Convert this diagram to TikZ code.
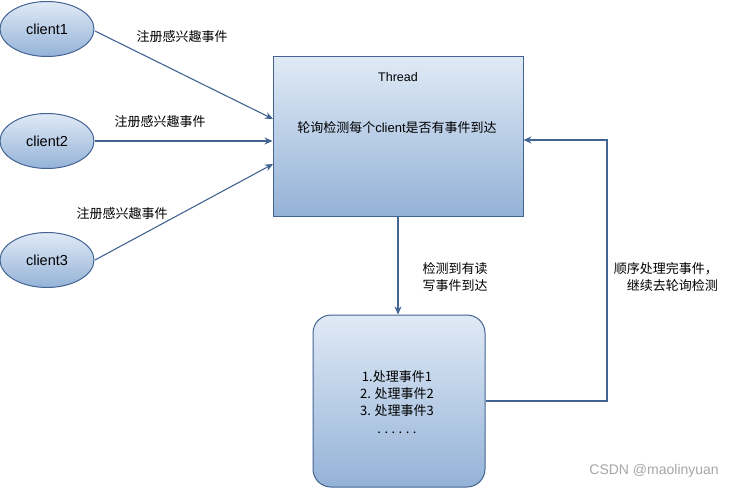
\documentclass[tikz,border=0pt]{standalone}
\usepackage{fontspec}
\setmainfont{Liberation Sans}
\newfontfamily\cjk{Noto Sans CJK SC}
\usetikzlibrary{arrows.meta,shapes.geometric,calc}
\definecolor{edgeblue}{RGB}{66,100,146}
\definecolor{filltop}{RGB}{224,234,246}
\definecolor{fillbot}{RGB}{148,178,215}
\tikzset{
  arr/.style={draw=edgeblue, line width=1.1pt, -{Stealth[length=8pt,width=7pt]}},
  clientnode/.style={ellipse, draw=edgeblue, line width=1pt, top color=filltop, bottom color=fillbot,
     minimum width=94pt, minimum height=55pt, inner sep=0pt, font=\fontsize{14.5}{16}\selectfont},
  boxnode/.style={rectangle, draw=edgeblue, line width=1pt, top color=filltop, bottom color=fillbot,
     minimum width=250pt, minimum height=160pt, inner sep=0pt},
  roundbox/.style={rectangle, rounded corners=18pt, draw=edgeblue, line width=1pt, top color=filltop, bottom color=fillbot,
     minimum width=172pt, minimum height=172pt, inner sep=0pt},
  lbl/.style={inner sep=0pt, font=\cjk\fontsize{13}{17}\selectfont},
}
\begin{document}
\begin{tikzpicture}[x=1pt,y=-1pt]
\useasboundingbox (0,0) rectangle (734,490);
% clients
\node[clientnode] (c1) at (47,29) {client1};
\node[clientnode] (c2) at (47,141) {client2};
\node[clientnode] (c3) at (47,260) {client3};
% thread box
\node[boxnode] (th) at (398,136) {};
\node[inner sep=0pt, font=\fontsize{12.5}{14}\selectfont] (thl) at (398,77) {Thread};
\node[inner sep=0pt, font=\fontsize{13}{14}\selectfont] (tht) at (397,128) {{\cjk 轮询检测每个}client{\cjk 是否有事件到达}};
% processing box
\node[roundbox] (bb) at (399,401) {};
\node[lbl, align=center] (bbt) at (397,402) {1.处理事件1\\2. 处理事件2\\3. 处理事件3\\[1pt].\hspace{3.5pt}.\hspace{3.5pt}.\hspace{3.5pt}.\hspace{3.5pt}.\hspace{3.5pt}.};
% coordinates
\coordinate (t1) at (273,119);
\coordinate (t3) at (273,164);
\coordinate (s1) at (95,31);
\coordinate (s3) at (95,260);
\coordinate (rt) at (607,140);
% connectors
\draw[arr] (s1) -- (t1);
\draw[arr] (c2.east) -- (c2.east -| th.west);
\draw[arr] (s3) -- (t3);
\draw[arr] (th.south) -- (th.south |- bb.north);
\draw[arr] (bb.east) -| (rt) -- (rt -| th.east);
% labels
\node[lbl] (l1) at (182,37) {注册感兴趣事件};
\node[lbl] (l2) at (160,122) {注册感兴趣事件};
\node[lbl] (l3) at (122,214) {注册感兴趣事件};
\node[lbl, align=left] (l4) at (455,277) {检测到有读\\写事件到达};
\node[lbl, align=right, anchor=east] (l5) at (718,277) {顺序处理完事件，\\继续去轮询检测};
\node[inner sep=0pt, anchor=east, text=black!35, font=\fontsize{14}{16}\selectfont] (wm) at (719,471) {CSDN @maolinyuan};
\end{tikzpicture}
\end{document}
